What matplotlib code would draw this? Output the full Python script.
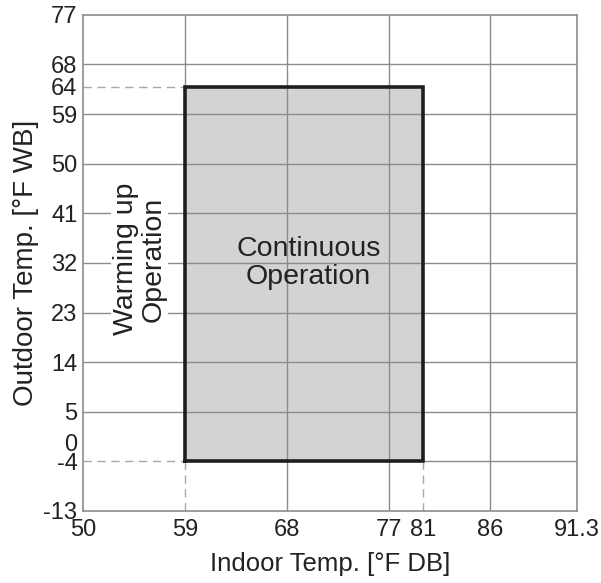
import numpy as np
import matplotlib
matplotlib.use("Agg")
import matplotlib.pyplot as plt
from matplotlib.transforms import ScaledTranslation

plt.rcParams['font.family'] = ['Liberation Sans', 'DejaVu Sans']

# indoor (dry bulb) and outdoor (wet bulb) temperature ticks, in °F
x_ticks = [50, 59, 68, 77, 81, 86, 91.3]
x_labels = ['50', '59', '68', '77', '81', '86', '91.3']
y_ticks = [-13, -4, 0, 5, 14, 23, 32, 41, 50, 59, 64, 68, 77]
y_labels = ['-13', '-4', '0', '5', '14', '23', '32', '41', '50', '59', '64', '68', '77']

# continuous operation range
indoor_range = [59, 81]
outdoor_range = [-4, 64]

grid_x = [68, 77, 86]
grid_y = [5, 14, 23, 32, 41, 50, 59, 68]

# axis spacing used on the printed chart (ticks are not evenly spaced in °F)
x_layout = [0, 102, 204, 306, 340, 407, 494]

def fwd(v):
    return np.interp(v, x_ticks, x_layout)

def inv(v):
    return np.interp(v, x_layout, x_ticks)

fig = plt.figure(figsize=(6.01, 5.83), dpi=100)
ax = fig.add_axes([0.138, 0.1235, 0.822, 0.851])
ax.set_xscale('function', functions=(fwd, inv))
ax.set_xlim(x_ticks[0], x_ticks[-1])
ax.set_ylim(y_ticks[0], y_ticks[-1])

grid_c = '#8c8c8c'
dash_c = '#a8a8a8'
text_c = '#222222'

# shaded operating area
ax.fill_between(indoor_range, outdoor_range[0], outdoor_range[1],
                color='#d3d3d3', lw=0, zorder=0.5)

# grid lines
for g in grid_y:
    ax.axhline(g, color=grid_c, lw=1.0, zorder=1)
for g in grid_x:
    ax.axvline(g, color=grid_c, lw=1.0, zorder=1)
ax.plot([indoor_range[0]] * 2, [outdoor_range[1], y_ticks[-1]], color=grid_c, lw=1.0, zorder=1)
ax.plot([indoor_range[1], x_ticks[-1]], [outdoor_range[0]] * 2, color=grid_c, lw=1.0, zorder=1)

# dashed guides to the axes
dash = dict(color=dash_c, lw=1.0, ls=(0, (6, 4)), zorder=1)
ax.plot([x_ticks[0], indoor_range[0]], [outdoor_range[1]] * 2, **dash)
ax.plot([x_ticks[0], indoor_range[0]], [outdoor_range[0]] * 2, **dash)
ax.plot([indoor_range[0]] * 2, [y_ticks[0], outdoor_range[0]], **dash)
ax.plot([indoor_range[1]] * 2, [y_ticks[0], outdoor_range[0]], **dash)

# outline of the operating area
ax.plot([indoor_range[0], indoor_range[1], indoor_range[1], indoor_range[0], indoor_range[0]],
        [outdoor_range[0], outdoor_range[0], outdoor_range[1], outdoor_range[1], outdoor_range[0]],
        color='#1e1e1e', lw=2.6, zorder=3, solid_joinstyle='miter')

ax.text(69.9, 32, 'Continuous\nOperation', ha='center', va='center',
        fontsize=20.5, color=text_c, linespacing=1.12, zorder=4)
ax.text(55, 32.7, 'Warming up\nOperation', ha='center', va='center', rotation=90,
        fontsize=20.5, color=text_c, linespacing=1.08, zorder=4,
        bbox=dict(facecolor='white', edgecolor='none', pad=1))

ax.set_xticks(x_ticks)
ax.set_xticklabels(x_labels)
ax.set_yticks(y_ticks)
ax.set_yticklabels(y_labels)
ax.xaxis.set_minor_locator(matplotlib.ticker.NullLocator())
ax.tick_params(axis='both', length=0, labelsize=17, colors=text_c)
ax.tick_params(axis='x', pad=6)
ax.tick_params(axis='y', pad=4)

# nudge the "0" label down a little toward "-4"
zero_tick = ax.yaxis.get_major_ticks()[y_ticks.index(0)]
zero_tick.label1.set_transform(zero_tick.label1.get_transform()
                               + ScaledTranslation(0, -0.03, fig.dpi_scale_trans))

for s in ax.spines.values():
    s.set_color('#8c8c8c')
    s.set_linewidth(1.2)

ax.set_xlabel('Indoor Temp. [°F DB]', fontsize=18.5, color=text_c, labelpad=8)
ax.set_ylabel('Outdoor Temp. [°F WB]', fontsize=20, color=text_c, labelpad=3)

fig.savefig('out.png', dpi=100)
